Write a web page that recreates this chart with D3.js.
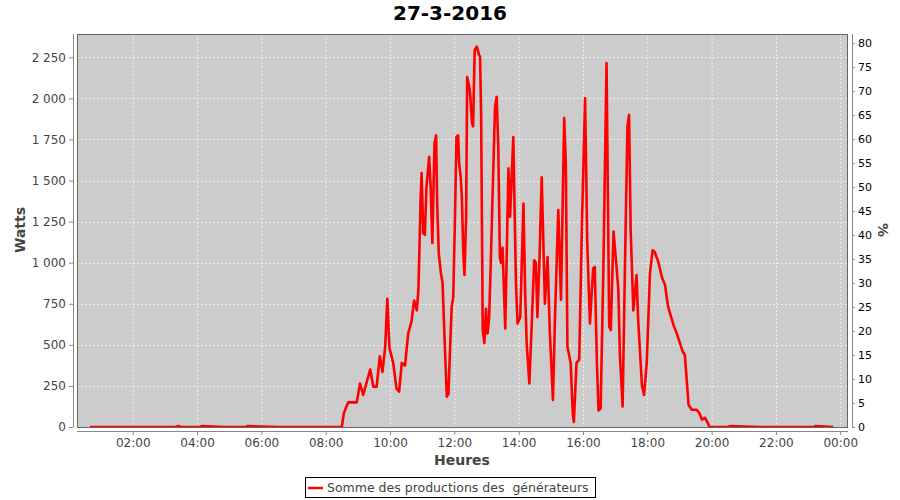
<!DOCTYPE html>
<html><head><meta charset="utf-8">
<script src="https://cdn.jsdelivr.net/npm/d3@7"></script>
<style>body{margin:0;background:#fff}svg{display:block;font-family:"DejaVu Sans",sans-serif}</style>
</head><body><svg id="c" width="900" height="500"></svg>
<script>
const title = "27-3-2016";
const seriesName = "Somme des productions des  générateurs";
const xTickLabels = ["02:00","04:00","06:00","08:00","10:00","12:00","14:00","16:00","18:00","20:00","22:00","00:00"];
const wattTicks = [0,250,500,750,1000,1250,1500,1750,2000,2250];
const pctTicks = [0,5,10,15,20,25,30,35,40,45,50,55,60,65,70,75,80];
const times = ["00:40","01:30","02:30","03:20","03:25","03:30","04:05","04:10","04:50","05:30","05:35","06:30","07:30","08:00","08:30",
"08:34","08:42","08:58","09:04","09:10","09:23","09:29","09:35","09:41","09:46","09:51","09:55","09:59","10:06","10:12","10:17","10:22","10:28","10:34","10:40","10:45","10:50","10:53","10:55","10:57","10:59",
"11:02","11:05","11:08","11:13","11:16","11:19","11:23","11:26","11:28","11:31","11:35","11:38","11:43","11:46","11:49","11:52","11:55","11:58",
"12:01","12:04","12:07","12:09","12:12","12:14","12:17","12:19","12:22","12:24","12:29","12:33","12:35","12:38","12:42","12:46","12:48","12:50","12:53","12:56","12:59",
"13:02","13:05","13:08","13:13","13:16","13:19","13:22","13:25","13:27","13:30","13:35","13:41","13:44","13:50","13:55","13:58",
"14:03","14:09","14:12","14:15","14:20","14:24","14:29","14:32","14:35","14:39","14:43","14:49","14:54","14:58",
"15:04","15:08","15:14","15:19","15:25","15:28","15:31","15:37","15:41","15:43","15:48","15:53","15:58",
"16:04","16:08","16:13","16:19","16:22","16:26","16:29","16:33","16:38","16:44","16:49","16:52","16:57",
"17:02","17:06","17:09","17:14","17:19","17:23","17:26","17:29","17:34","17:40","17:43","17:50","17:54","17:59",
"18:05","18:10","18:14","18:21","18:27","18:33","18:39","18:49","18:55",
"19:01","19:06","19:10","19:15","19:17","19:23","19:32","19:37","19:42","19:48","19:52","19:56",
"20:30","20:35","21:30","22:30","23:10","23:15","23:47"];
const watts = [0,0,0,0,6,0,0,6,0,0,6,0,0,0,0,
85,150,150,265,195,350,245,245,430,335,490,780,480,390,235,215,390,375,570,640,770,710,835,1095,1380,1545,
1180,1170,1460,1645,1450,1120,1725,1775,1360,1055,935,880,430,185,200,470,730,790,
1240,1765,1775,1605,1520,1400,1035,925,1280,2130,2050,1850,1830,2295,2315,2265,2255,1910,590,510,720,
570,670,1000,1605,1950,2010,1705,1035,1000,1090,600,1575,1280,1765,875,630,
670,1360,835,510,265,590,1015,1000,670,1035,1520,750,1035,590,
165,690,1320,775,1880,1605,490,390,85,30,390,410,1220,
2000,1120,630,965,975,390,100,115,950,2215,610,590,1190,
1000,835,430,125,1100,1830,1900,1200,710,925,650,255,195,390,
935,1075,1065,1000,915,865,730,620,570,
510,460,440,225,135,105,105,85,45,55,30,0,
0,6,0,0,0,6,0];

const toMin = s => { const [h,m] = s.split(":").map(Number); return h*60+m; };
const data = times.map((t,i)=>({x:toMin(t), y:watts[i]}));

const svg = d3.select("#c");
const L=77, R=848, T=34, B=427;
const x = d3.scaleLinear().domain([16,1454.5]).range([L,R]);
const y = d3.scaleLinear().domain([0,2392]).range([B,T]);
const y2 = d3.scaleLinear().domain([0,81.9]).range([B,T]);
const xTickVals = xTickLabels.map((s,i)=>(i+1)*120);
const gridCol = "#eeeeee", axisCol = "#888888", txtCol = "#444444";

// title
svg.append("text").attr("x",450).attr("y",20).attr("text-anchor","middle")
  .attr("font-size",20).attr("font-weight","bold").attr("fill","#000").text(title);

// plot background
svg.append("rect").attr("x",L).attr("y",T).attr("width",R-L).attr("height",B-T).attr("fill","#cccccc");

// grid
const g = svg.append("g");
g.selectAll(".gx").data(xTickVals).join("line")
  .attr("x1",d=>x(d)+0.5).attr("x2",d=>x(d)+0.5).attr("y1",T).attr("y2",B)
  .attr("stroke",gridCol).attr("stroke-width",1).attr("stroke-dasharray","2,2");
g.selectAll(".gy").data(wattTicks.slice(1)).join("line")
  .attr("x1",L).attr("x2",R).attr("y1",d=>Math.round(y(d))+0.5).attr("y2",d=>Math.round(y(d))+0.5)
  .attr("stroke",gridCol).attr("stroke-width",1).attr("stroke-dasharray","2,2");

// series
svg.append("clipPath").attr("id","clip").append("rect").attr("x",L).attr("y",T).attr("width",R-L).attr("height",B-T);
svg.append("path").datum(data).attr("clip-path","url(#clip)")
  .attr("d",d3.line().x(d=>x(d.x)).y(d=>y(d.y)))
  .attr("fill","none").attr("stroke","#ff0000").attr("stroke-width",2.6).attr("stroke-linejoin","round");

// plot border
svg.append("rect").attr("x",L+0.5).attr("y",T+0.5).attr("width",R-L-1).attr("height",B-T).attr("fill","none").attr("stroke","#666666");

// axes
const fmt = v => d3.format(",")(v).replace(/,/g," ");
const yAxis = svg.append("g").attr("transform",`translate(${L-4},0)`)
  .call(d3.axisLeft(y).tickValues(wattTicks).tickFormat(fmt).tickSize(4).tickPadding(3));
const y2Axis = svg.append("g").attr("transform",`translate(${R+4},0)`)
  .call(d3.axisRight(y2).tickValues(pctTicks).tickSize(3).tickPadding(3));
const xAxis = svg.append("g").attr("transform",`translate(0,${B+4})`)
  .call(d3.axisBottom(x).tickValues(xTickVals).tickFormat((d,i)=>xTickLabels[i]).tickSize(4).tickPadding(3));
[yAxis,y2Axis,xAxis].forEach(a=>{
  a.selectAll("path").attr("stroke",axisCol);
  a.selectAll("line").attr("stroke",axisCol);
  a.selectAll("text").attr("fill",txtCol).attr("font-size",12).attr("font-family","DejaVu Sans");
});
y2Axis.selectAll("text").attr("font-size",11).attr("fill","#000");
yAxis.select("path").attr("d",`M0.5,${T}V${B}`);
y2Axis.select("path").attr("d",`M0.5,${T}V${B}`);
xAxis.select("path").attr("d",`M${L},0.5H${R}`);

// axis labels
svg.append("text").attr("transform","translate(25,230) rotate(-90)").attr("text-anchor","middle")
  .attr("font-size",14).attr("font-weight","bold").attr("fill",txtCol).text("Watts");
svg.append("text").attr("transform","translate(878,230) rotate(90)").attr("text-anchor","middle")
  .attr("font-size",14).attr("font-weight","bold").attr("fill",txtCol).text("%");
svg.append("text").attr("x",462).attr("y",465).attr("text-anchor","middle")
  .attr("font-size",14).attr("font-weight","bold").attr("fill",txtCol).text("Heures");

// legend
const lg = svg.append("g");
lg.append("rect").attr("x",305.5).attr("y",477.5).attr("width",290).attr("height",20).attr("fill","#fff").attr("stroke","#000");
lg.append("line").attr("x1",308).attr("x2",323).attr("y1",488).attr("y2",488).attr("stroke","#ff0000").attr("stroke-width",2.5);
lg.append("text").attr("x",327).attr("y",492).attr("font-size",12.5).attr("fill",txtCol).attr("xml:space","preserve").style("white-space","pre").text(seriesName);
</script></body></html>
